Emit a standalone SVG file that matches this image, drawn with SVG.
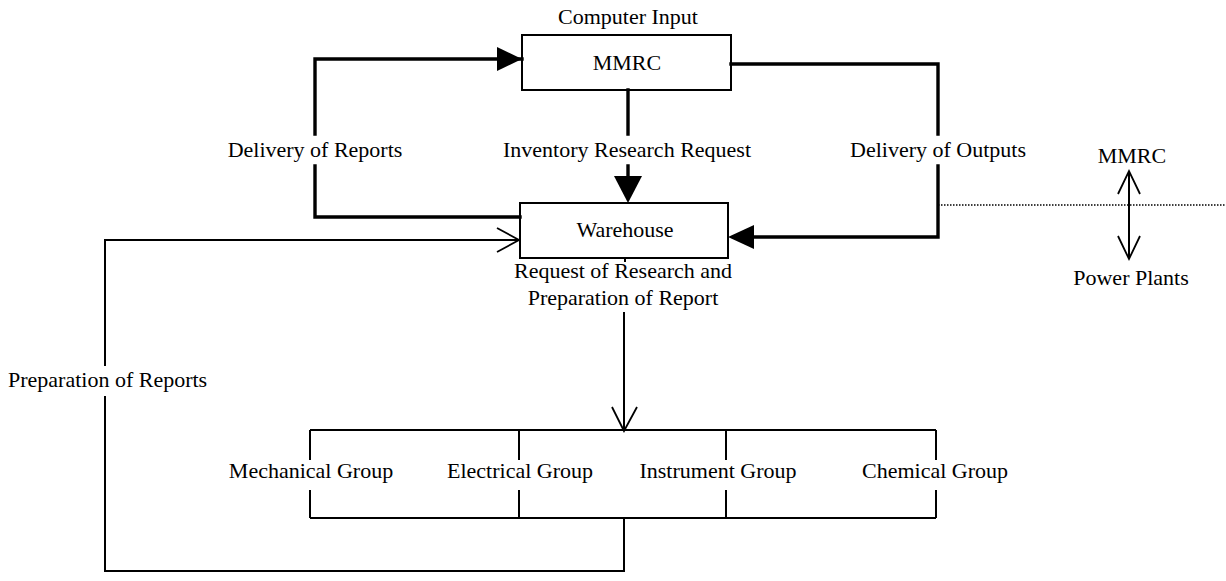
<svg xmlns="http://www.w3.org/2000/svg" width="1226" height="581" viewBox="0 0 1226 581">
  <style>
    .bg { fill: #ffffff; }
    .box { fill: none; stroke: #000; stroke-width: 2; }
    .thick { fill: none; stroke: #000; stroke-width: 3.4; stroke-linecap: square; stroke-linejoin: miter; }
    .thin { fill: none; stroke: #000; stroke-width: 2; stroke-linejoin: miter; }
    .dotted { fill: none; stroke: #000; stroke-width: 1.6; stroke-dasharray: 1.5 1.5; }
    .head { fill: #000; stroke: none; }
    .open { fill: none; stroke: #000; stroke-width: 1.8; stroke-linejoin: miter; }
    text { font-family: "Liberation Serif", "Times New Roman", serif; font-size: 22px; fill: #000; }
    .c { text-anchor: middle; }
  </style>
  <rect class="bg" x="0" y="0" width="1226" height="581"/>

  <!-- MMRC centre -->
  <g id="mmrc">
    <rect class="box" x="522" y="35" width="209" height="55"/>
    <text class="c" x="627" y="70">MMRC</text>
    <text class="c" x="628" y="24">Computer Input</text>
  </g>

  <!-- Warehouse -->
  <g id="warehouse">
    <rect class="box" x="520" y="203" width="208" height="55"/>
    <text class="c" x="625" y="237">Warehouse</text>
  </g>

  <!-- Engineering groups -->
  <g id="groups">
    <path class="box" d="M310,430 H936 M310,518 H936"/>
    <path class="box" d="M310,430 V460 M310,490 V518 M519,430 V460 M519,490 V518 M726,430 V460 M726,490 V518 M936,430 V460 M936,490 V518"/>
    <text class="c" x="311" y="478">Mechanical Group</text>
    <text class="c" x="520" y="478">Electrical Group</text>
    <text class="c" x="718" y="478">Instrument Group</text>
    <text class="c" x="935" y="478">Chemical Group</text>
  </g>

  <!-- MMRC / Power Plants relation -->
  <g id="legend">
    <text class="c" x="1132" y="163">MMRC</text>
    <text class="c" x="1131" y="285">Power Plants</text>
  </g>

  <g id="connectors">
    <!-- reports back to MMRC -->
    <path class="thick" d="M522,59 H315 V134 M315,166 V217 H520"/>
    <polygon class="head" points="497,47 522,59 497,71"/>
    <!-- inventory research request -->
    <path class="thick" d="M628,90 V134 M628,166 V180"/>
    <polygon class="head" points="614,176 642,176 628,203"/>
    <!-- outputs to warehouse -->
    <path class="thick" d="M731,64 H938 V134 M938,166 V237 H752"/>
    <polygon class="head" points="754,225 728,237 754,249"/>
    <!-- boundary -->
    <path class="dotted" d="M938,205 H1226"/>
    <path class="thin" d="M1129,171 V259"/>
    <path class="open" d="M1118,194 L1129,171 L1140,194 M1118,236 L1129,259 L1140,236"/>
    <!-- research request to groups -->
    <path class="thin" d="M625,258 V262 M624,312 V430"/>
    <path class="open" d="M612,407 L624,431 L637,407"/>
    <text class="c" x="623" y="278">Request of Research and</text>
    <text class="c" x="623" y="305">Preparation of Report</text>
    <!-- reports back to warehouse -->
    <path class="thin" d="M624,518 V571 H105 V396 M105,366 V240 H519"/>
    <path class="open" d="M497,228 L519,240 L497,252"/>
    <text x="8" y="387">Preparation of Reports</text>
    <text class="c" x="315" y="157">Delivery of Reports</text>
    <text class="c" x="627" y="157">Inventory Research Request</text>
    <text class="c" x="938" y="157">Delivery of Outputs</text>
  </g>
</svg>
